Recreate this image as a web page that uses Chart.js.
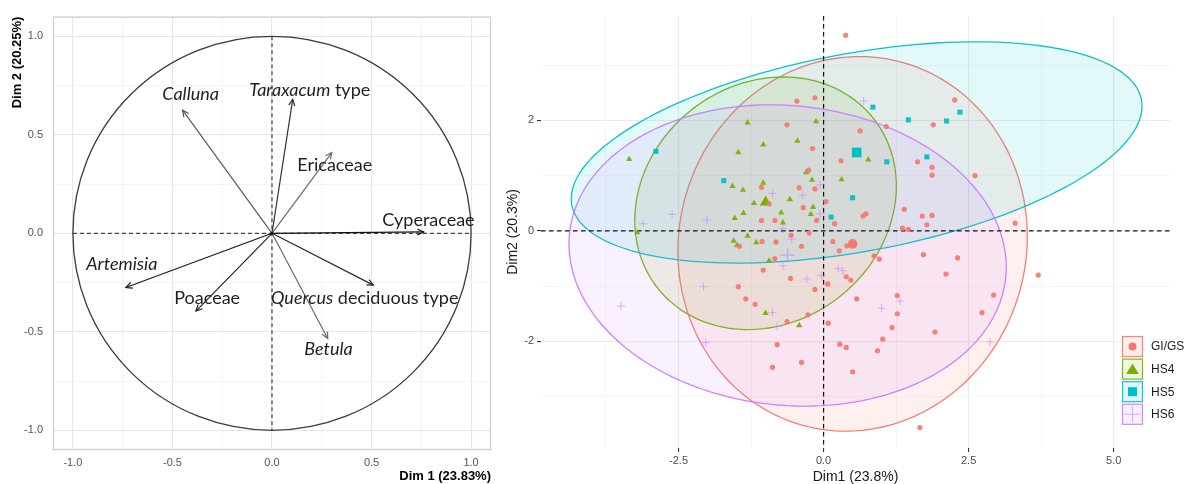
<!DOCTYPE html>
<html><head><meta charset="utf-8">
<script src="https://cdn.jsdelivr.net/npm/chart.js@4.4.1/dist/chart.umd.min.js"></script>
<style>
html,body{margin:0;padding:0;background:#fff;}
#wrap{position:relative;width:1185px;height:484px;overflow:hidden;background:#fff;}
#left{position:absolute;left:0;top:0;width:500px;height:484px;}
#right{position:absolute;left:500px;top:0;width:685px;height:484px;}
</style></head><body>
<div id="wrap"><canvas id="left" width="500" height="484"></canvas><canvas id="right" width="685" height="484"></canvas></div>
<script>
// ---------- LEFT PANEL DATA (variables correlation circle) ----------
const varNames = ['Calluna','Taraxacum type','Ericaceae','Cyperaceae','Artemisia','Poaceae','Quercus deciduous type','Betula'];
const varDim1 = [-0.449, 0.104, 0.300, 0.762, -0.734, -0.382, 0.509, 0.280];
const varDim2 = [0.625, 0.680, 0.410, 0.007, -0.275, -0.395, -0.263, -0.534];
const leftMajorTicks = [-1.0, -0.5, 0.0, 0.5, 1.0];
const leftMinorTicks = [-0.75, -0.25, 0.25, 0.75];

// ---------- RIGHT PANEL DATA (individuals) ----------
const groups = ['GI/GS','HS4','HS5','HS6'];
const gigsX = [0.38,-0.46,-0.15,-0.63,-0.19,-0.26,2.26,0.63,1.08,1.89,0.30,1.62,1.87,1.87,2.61,-1.07,-0.42,-0.15,-0.94,-0.35,-1.07,-0.84,-0.56,-0.25,-1.06,-0.82,-0.38,-1.45,-0.84,-1.04,-0.57,-1.47,-0.15,-1.34,-1.18,-0.12,0.04,1.39,1.70,1.87,0.68,0.73,0.19,1.78,1.36,1.46,3.30,0.16,0.40,0.27,0.87,0.96,1.72,2.31,2.11,0.39,0.47,0.07,0.57,1.27,2.93,3.70,2.73,1.27,1.18,1.92,1.02,0.93,0.50,1.66,0.08,0.28,0.39,-0.27,-0.63,-0.80,-0.38,-0.88];
const gigsY = [3.54,2.35,2.41,1.92,1.49,1.10,2.37,1.81,1.89,1.92,1.27,1.25,1.15,1.01,1.00,0.79,0.78,0.76,0.49,0.42,0.19,0.19,-0.08,-0.04,-0.19,-0.20,-0.28,-0.28,-0.50,-0.71,-0.86,-1.01,-1.06,-1.23,-1.33,0.19,0.53,0.39,0.27,0.28,0.27,0.31,0.13,0.11,0.05,0.03,0.14,-0.19,-0.27,-0.36,-0.45,-0.51,-0.43,-0.49,-0.78,-0.83,-0.89,-0.96,-1.23,-1.17,-1.16,-0.80,-1.48,-1.50,-1.75,-1.83,-1.96,-2.17,-2.55,-3.56,-1.67,-2.05,-2.11,-1.52,-1.64,-2.06,-2.38,-2.47];
const hs4X = [-1.31,-0.13,-1.04,-0.45,-1.47,-3.35,-0.30,-0.20,0.77,0.31,-1.57,-1.39,-1.04,-1.20,-0.58,-0.18,-1.38,-1.53,-0.73,-0.22,-0.70,-3.21,-1.31,-1.55,-1.49,-1.16,-0.94,-1.00,-0.42];
const hs4Y = [1.96,1.98,1.56,1.63,1.42,1.30,1.06,0.92,1.29,0.93,0.81,0.74,0.87,0.50,0.57,0.43,0.32,0.23,0.33,0.30,0.15,-0.03,-0.09,-0.18,-0.26,-0.21,-0.54,-1.49,-1.71];
const hs5X = [-2.89,-1.72,0.85,1.46,2.12,2.35,1.09,1.78,0.50,0.13];
const hs5Y = [1.44,0.91,2.24,2.01,1.99,2.15,1.25,1.34,0.60,0.25];
const hs6X = [0.69,-0.88,-0.36,-0.06,-2.61,-2.01,-3.11,-0.06,-0.70,-0.55,-0.70,-0.29,-2.07,-3.49,-0.04,0.25,0.33,1.32,1.00,2.87,-0.88,-0.80,-2.03];
const hs6Y = [2.35,0.68,0.65,0.83,0.30,0.20,0.13,0.31,0.04,-0.15,-0.63,-0.87,-1.01,-1.36,-0.81,-0.68,-0.72,-1.27,-1.40,-2.01,-1.48,-1.73,-2.02];
const centroidX = [0.50,-1.00,0.57,-0.62];
const centroidY = [-0.235,0.52,1.42,-0.44];
// confidence ellipses (data units): centre, semi-axes, rotation in degrees
const ellCX = [0.50,-1.00,0.57,-0.62];
const ellCY = [-0.235,0.50,1.42,-0.445];
const ellA = [3.40,2.42,5.00,3.78];
const ellB = [3.00,2.11,1.79,2.71];
const ellAngle = [80.8,48,11.1,-6.6];
const rightXMajor = [-2.5,0,2.5,5];
const rightXMinor = [-3.75,-1.25,1.25,3.75];
const rightYMajor = [-2,0,2];
const rightYMinor = [-3,-1,1,3];

// ---------- STYLES ----------
Chart.defaults.font.family = "'Liberation Sans', Arial, sans-serif";
const rgb = [[248,118,109],[124,174,0],[0,191,196],[199,124,255]];
const col = (i,a)=>`rgba(${rgb[i][0]},${rgb[i][1]},${rgb[i][2]},${a})`;
const arrowColors = ['#5a5a5a','#333','#6a6a6a','#111','#1a1a1a','#222','#2a2a2a','#6a6a6a'];
const labelParts = [
  [['Calluna',true]],
  [['Taraxacum',true],[' type',false]],
  [['Ericaceae',false]],
  [['Cyperaceae',false]],
  [['Artemisia',true]],
  [['Poaceae',false]],
  [['Quercus',true],[' deciduous type',false]],
  [['Betula',true]]
];
const labelPos = [[-0.551,0.705],[-0.114,0.726],[0.127,0.344],[0.554,0.065],[-0.933,-0.156],[-0.491,-0.33],[-0.005,-0.33],[0.162,-0.588]];

function mkTicks(list){ return s => { s.ticks = list.slice().sort((a,b)=>a-b).map(v=>({value:v})); }; }
const isIn = (list,v)=>list.some(m=>Math.abs(m-v)<1e-9);

// ---------- LEFT CHART ----------
const leftPlugin = {
  id:'leftDeco',
  beforeDatasetsDraw(chart){
    const {ctx, chartArea:a, scales:{x,y}} = chart;
    ctx.save();
    ctx.strokeStyle='#d0d0d0'; ctx.lineWidth=1.4;
    ctx.strokeRect(a.left+0.5,a.top+0.5,a.right-a.left-1,a.bottom-a.top-1);
    ctx.strokeStyle='#444'; ctx.lineWidth=1.2; ctx.setLineDash([4,3]);
    ctx.beginPath();
    ctx.moveTo(x.getPixelForValue(-1),y.getPixelForValue(0)); ctx.lineTo(x.getPixelForValue(1),y.getPixelForValue(0));
    ctx.moveTo(x.getPixelForValue(0),y.getPixelForValue(1)); ctx.lineTo(x.getPixelForValue(0),y.getPixelForValue(-1));
    ctx.stroke();
    ctx.setLineDash([]);
    const cx=x.getPixelForValue(0), cy=y.getPixelForValue(0);
    const rx=x.getPixelForValue(1)-cx, ry=cy-y.getPixelForValue(1);
    ctx.strokeStyle='#3a3a3a'; ctx.lineWidth=1.3;
    ctx.beginPath(); ctx.ellipse(cx,cy,rx,ry,0,0,Math.PI*2); ctx.stroke();
    const meta = chart.getDatasetMeta(0);
    meta.data.forEach((pt,i)=>{
      const tx=pt.x, ty=pt.y;
      ctx.strokeStyle=arrowColors[i]; ctx.lineWidth=1.2;
      ctx.beginPath(); ctx.moveTo(cx,cy); ctx.lineTo(tx,ty); ctx.stroke();
      const ang=Math.atan2(ty-cy,tx-cx), hl=7, ha=0.45;
      ctx.beginPath();
      ctx.moveTo(tx-hl*Math.cos(ang-ha),ty-hl*Math.sin(ang-ha));
      ctx.lineTo(tx,ty);
      ctx.lineTo(tx-hl*Math.cos(ang+ha),ty-hl*Math.sin(ang+ha));
      ctx.stroke();
    });
    ctx.fillStyle='#111'; ctx.beginPath(); ctx.arc(cx,cy,1.6,0,Math.PI*2); ctx.fill();
    ctx.restore();
  },
  afterDatasetsDraw(chart){
    const {ctx, scales:{x,y}} = chart;
    ctx.save(); ctx.textBaseline='middle'; ctx.fillStyle='#1e1e2a';
    labelParts.forEach((parts,i)=>{
      let px=x.getPixelForValue(labelPos[i][0]); const py=y.getPixelForValue(labelPos[i][1]);
      parts.forEach(([t,it])=>{
        ctx.font=(it?'italic ':'')+"18px Lato, 'Open Sans', sans-serif";
        ctx.fillText(t,px,py); px+=ctx.measureText(t).width;
      });
    });
    ctx.restore();
  }
};
new Chart(document.getElementById('left'),{
  type:'scatter',
  data:{datasets:[{label:'variables',data:varDim1.map((v,i)=>({x:v,y:varDim2[i]})),pointRadius:0}]},
  options:{
    responsive:false, animation:false, events:[],
    layout:{padding:{left:0,right:9,top:14,bottom:0}},
    plugins:{legend:{display:false},tooltip:{enabled:false}},
    scales:{
      x:{type:'linear',min:-1.1,max:1.1,afterBuildTicks:mkTicks(leftMajorTicks.concat(leftMinorTicks)),
        afterFit:s=>{s.height=34;},
        border:{display:false},
        grid:{drawTicks:false,color:c=>isIn(leftMajorTicks,c.tick.value)?'#e6e6e6':'#f3f3f3',lineWidth:c=>isIn(leftMajorTicks,c.tick.value)?1.1:0.8},
        ticks:{padding:6,color:'#555',font:{size:11},autoSkip:false,maxRotation:0,callback:v=>isIn(leftMajorTicks,v)?v.toFixed(1):''},
        title:{display:true,text:'Dim 1 (23.83%)',align:'end',color:'#000',font:{size:13,weight:'bold'},padding:0}},
      y:{type:'linear',min:-1.1,max:1.1,afterBuildTicks:mkTicks(leftMajorTicks.concat(leftMinorTicks)),
        afterFit:s=>{s.width=53;},
        border:{display:false},
        grid:{drawTicks:false,color:c=>isIn(leftMajorTicks,c.tick.value)?'#e6e6e6':'#f3f3f3',lineWidth:c=>isIn(leftMajorTicks,c.tick.value)?1.1:0.8},
        ticks:{padding:10,color:'#555',font:{size:11},autoSkip:false,callback:v=>isIn(leftMajorTicks,v)?v.toFixed(1):''},
        title:{display:true,text:'Dim 2 (20.25%)',align:'end',color:'#000',font:{size:13,weight:'bold'},padding:{top:10}}}
    }
  },
  plugins:[leftPlugin]
});

// ---------- RIGHT CHART ----------
const rightPlugin = {
  id:'rightDeco',
  beforeDatasetsDraw(chart){
    const {ctx, chartArea:a, scales:{x,y}} = chart;
    ctx.save();
    ctx.beginPath(); ctx.rect(a.left,a.top,a.right-a.left,a.bottom-a.top); ctx.clip();
    groups.forEach((g,i)=>{
      const th=ellAngle[i]*Math.PI/180, N=160;
      ctx.beginPath();
      for(let k=0;k<=N;k++){
        const t=k/N*Math.PI*2;
        const dx=ellA[i]*Math.cos(t), dy=ellB[i]*Math.sin(t);
        const vx=ellCX[i]+dx*Math.cos(th)-dy*Math.sin(th);
        const vy=ellCY[i]+dx*Math.sin(th)+dy*Math.cos(th);
        const px=x.getPixelForValue(vx), py=y.getPixelForValue(vy);
        k?ctx.lineTo(px,py):ctx.moveTo(px,py);
      }
      ctx.closePath();
      ctx.fillStyle=col(i,0.11); ctx.fill();
      ctx.strokeStyle=col(i,0.95); ctx.lineWidth=1.3; ctx.stroke();
    });
    ctx.strokeStyle='#111'; ctx.lineWidth=1.2; ctx.setLineDash([4.5,3.5]);
    ctx.beginPath();
    ctx.moveTo(a.left,y.getPixelForValue(0)); ctx.lineTo(a.right,y.getPixelForValue(0));
    ctx.moveTo(x.getPixelForValue(0),a.top); ctx.lineTo(x.getPixelForValue(0),a.bottom);
    ctx.stroke();
    ctx.restore();
  },
  afterDraw(chart){
    const {ctx} = chart;
    ctx.save();
    ctx.fillStyle='#fff'; ctx.fillRect(617,332,68,98);
    const kx=622, ky=[336,358.6,381.2,403.8], ks=21;
    groups.forEach((g,i)=>{
      ctx.fillStyle=col(i,0.12); ctx.fillRect(kx,ky[i],ks,ks);
      ctx.strokeStyle=col(i,0.9); ctx.lineWidth=1.2; ctx.strokeRect(kx+0.5,ky[i]+0.5,ks-1,ks-1);
      const cx=kx+ks/2, cy=ky[i]+ks/2;
      ctx.fillStyle=col(i,1); ctx.strokeStyle=col(i,0.6);
      if(i===0){ctx.beginPath();ctx.arc(cx,cy,4,0,Math.PI*2);ctx.fill();}
      if(i===1){ctx.beginPath();ctx.moveTo(cx,cy-5.5);ctx.lineTo(cx+6.3,cy+5);ctx.lineTo(cx-6.3,cy+5);ctx.closePath();ctx.fill();}
      if(i===2){ctx.fillRect(cx-4.5,cy-4.5,9,9);}
      if(i===3){ctx.lineWidth=1.1;ctx.beginPath();ctx.moveTo(cx-8,cy);ctx.lineTo(cx+8,cy);ctx.moveTo(cx,cy-8);ctx.lineTo(cx,cy+8);ctx.stroke();}
      ctx.fillStyle='#1a1a1a'; ctx.font="12px 'Liberation Sans', Arial, sans-serif"; ctx.textBaseline='middle';
      ctx.fillText(g,651,cy+0.5);
    });
    ctx.restore();
  }
};
const pts=(xs,ys)=>xs.map((v,i)=>({x:v,y:ys[i]}));
const styles=['circle','triangle','rect','cross'];
const smallR=[2.6,3.6,3.6,4.2], bigR=[4.8,6.6,6.8,7];
const seriesX=[gigsX,hs4X,hs5X,hs6X], seriesY=[gigsY,hs4Y,hs5Y,hs6Y];
const dsets=[];
groups.forEach((g,i)=>{
  dsets.push({label:g,data:pts(seriesX[i],seriesY[i]),pointStyle:styles[i],pointRadius:smallR[i],
    backgroundColor:col(i,i===3?0.5:0.92),borderColor:col(i,i===3?0.55:0.92),borderWidth:i===3?1:0});
});
groups.forEach((g,i)=>{
  dsets.push({label:g+' mean',data:[{x:centroidX[i],y:centroidY[i]}],pointStyle:styles[i],pointRadius:bigR[i],
    backgroundColor:col(i,i===3?0.55:1),borderColor:col(i,i===3?0.6:1),borderWidth:i===3?1.2:0});
});
new Chart(document.getElementById('right'),{
  type:'scatter',
  data:{datasets:dsets},
  options:{
    responsive:false, animation:false, events:[],
    layout:{padding:{left:0,right:15,top:16,bottom:0}},
    plugins:{legend:{display:false},tooltip:{enabled:false}},
    scales:{
      x:{type:'linear',min:-4.87,max:5.97,afterBuildTicks:mkTicks(rightXMajor.concat(rightXMinor)),
        afterFit:s=>{s.height=36;},
        border:{display:false},
        grid:{drawTicks:true,tickLength:4,tickColor:c=>isIn(rightXMajor,c.tick.value)?'#333':'rgba(0,0,0,0)',
          color:c=>isIn(rightXMajor,c.tick.value)?'#ebebeb':'#f4f4f4',lineWidth:c=>isIn(rightXMajor,c.tick.value)?1.1:0.8},
        ticks:{padding:2,color:'#4d4d4d',font:{size:11},autoSkip:false,maxRotation:0,callback:v=>isIn(rightXMajor,v)?v.toFixed(1):''},
        title:{display:true,text:'Dim1 (23.8%)',color:'#1a1a1a',font:{size:14},padding:{bottom:-2}}},
      y:{type:'linear',min:-3.93,max:3.89,afterBuildTicks:mkTicks(rightYMajor.concat(rightYMinor)),
        afterFit:s=>{s.width=41;},
        border:{display:false},
        grid:{drawTicks:true,tickLength:4,tickColor:c=>isIn(rightYMajor,c.tick.value)?'#333':'rgba(0,0,0,0)',
          color:c=>isIn(rightYMajor,c.tick.value)?'#ebebeb':'#f4f4f4',lineWidth:c=>isIn(rightYMajor,c.tick.value)?1.1:0.8},
        ticks:{padding:3,color:'#4d4d4d',font:{size:11},autoSkip:false,callback:v=>isIn(rightYMajor,v)?v.toFixed(0):''},
        title:{display:true,text:'Dim2 (20.3%)',color:'#1a1a1a',font:{size:14},padding:{top:4.6}}}
    }
  },
  plugins:[rightPlugin]
});
</script>
</body></html>
